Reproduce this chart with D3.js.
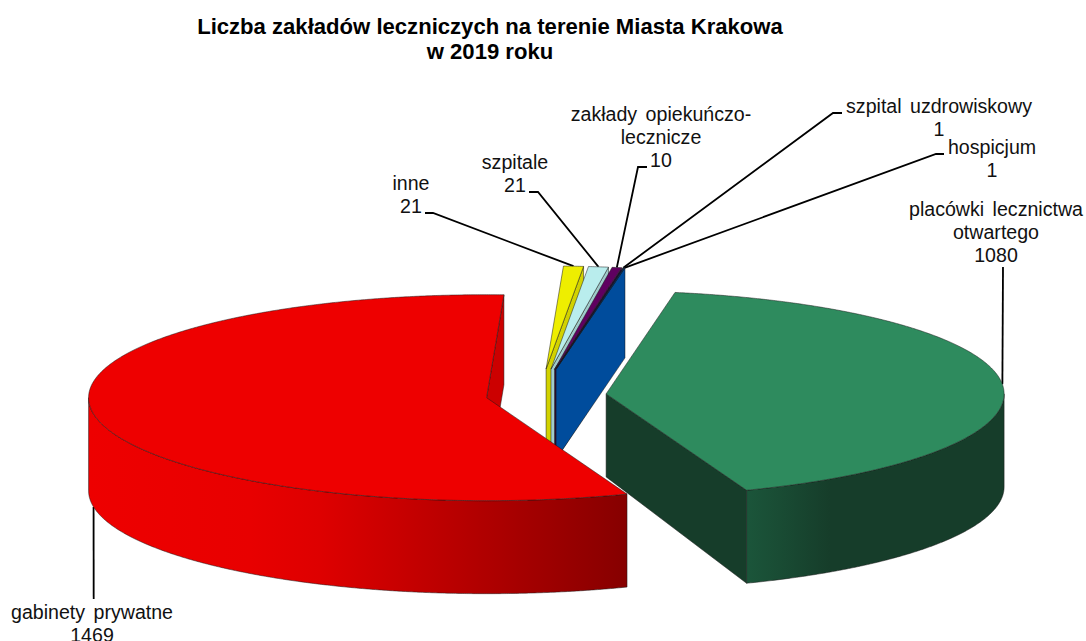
<!DOCTYPE html>
<html><head><meta charset="utf-8">
<style>html,body{margin:0;padding:0;background:#fff;overflow:hidden}
text{font-family:"Liberation Sans",Arial,sans-serif;fill:#111}
.lab{font-size:19.6px;word-spacing:3px;text-anchor:middle}
.ttl{font-size:22.1px;font-weight:bold;text-anchor:middle;fill:#000}
</style>
<script src="https://cdn.jsdelivr.net/npm/d3@7/dist/d3.min.js"></script>
</head><body>
<svg id="c" width="1086" height="641"></svg>
<script>
const categories=["inne","szpitale","zakłady opiekuńczo-\nlecznicze","szpital uzdrowiskowy","hospicjum","placówki lecznictwa\notwartego","gabinety prywatne"];
const values=[21,21,10,1,1,1080,1469];
const titleLines=["Liczba zakładów leczniczych na terenie Miasta Krakowa","w 2019 roku"];
const topColors=["#eeee00","#b9eded","#5f0060","#14143c","#004c9c","#2e8b5e","#ee0000"];
const wallColors=["#d2d200","#a0cccc","#3c003c","#000022","#004c9c","#163d2a","#cc0000"];
const explosion=[97,97,97,97,97,67,53.5];
const lift=[1.5,1.5,1.5,1.5,1.5,0,0];
const drawOrder=[5,0,1,2,3,4,6];
// label layout: centre x, first baseline, leader elbow points
const labelAt=[[411,190],[515,169],[661,121],[939,113],[992,154],[996,216],[92,619]];
const elbows=[[[425,213],[433,213]],[[529,192],[538,192]],[[647,167],[638,167]],[[842,113],[833,113]],[[944,154],[936,154]],[[1003,267]],[[93.7,599]]];

const CX=539.4,CY=395.5,RX=398,RY=103,D=93;
const sx=d3.scaleLinear().domain([-1,1]).range([-RX,RX]);
const sy=d3.scaleLinear().domain([-1,1]).range([-RY,RY]);
const start=2.5*Math.PI/180;
const arcs=d3.pie().sort(null).startAngle(start).endAngle(start+2*Math.PI)(values);
const svg=d3.select("#c");
const defs=svg.append("defs");
function grad(id,x1,x2,stops){const g=defs.append("linearGradient").attr("id",id).attr("gradientUnits","userSpaceOnUse").attr("x1",x1).attr("x2",x2).attr("y1",0).attr("y2",0);
 stops.forEach(s=>g.append("stop").attr("offset",s[0]).attr("stop-color",s[1]));}
grad("gRed",88,628,[[0,"#ee0000"],[.3,"#e80000"],[.43,"#de0000"],[.7,"#b50000"],[1,"#860000"]]);
grad("gGreen",748,1004,[[0,"#1b553a"],[.32,"#163d2a"],[1,"#163d2a"]]);
const sideFill={5:"url(#gGreen)",6:"url(#gRed)"};
const line=d3.line();
function centre(i){const m=(arcs[i].startAngle+arcs[i].endAngle)/2,e=explosion[i];
 return [CX+e*Math.sin(m),CY-lift[i]-e*Math.cos(m)*RY/RX];}
function pt(i,t){const c=centre(i);return [c[0]+sx(Math.sin(t)),c[1]-sy(Math.cos(t))];}
function depth(t){const c=Math.cos(t);return D-(c>0?3*c:0);}
function arcPts(i,a,b){const n=Math.max(2,Math.ceil((b-a)*180));return d3.range(n+1).map(k=>pt(i,a+(b-a)*k/n));}
function poly(pts,fill){return svg.append("path").attr("d",line(pts)+"Z").attr("fill",fill)
 .attr("stroke","#1a1a1a").attr("stroke-width",.6).attr("stroke-linejoin","round").attr("stroke-opacity",.85);}
function leader(pts){svg.append("path").attr("d",line(pts)).attr("fill","none").attr("stroke","#000").attr("stroke-width",1.8);}
arcs.forEach((a,i)=>{
 const m=(a.startAngle+a.endAngle)/2;let end=pt(i,m);
 if(i===6) end=[end[0],end[1]+depth(m)];
 leader([...elbows[i],end]);
});
drawOrder.forEach(i=>{
 const a=arcs[i],c=centre(i),e=a.endAngle;
 const o=pt(i,e);
 const apexDepth=i===5?83:depth(e);
 poly([o,c,[c[0],c[1]+apexDepth],[o[0],o[1]+depth(e)]],wallColors[i]);
 const s0=Math.max(a.startAngle,Math.PI/2),s1=Math.min(a.endAngle,1.5*Math.PI);
 if(s1>s0){const up=arcPts(i,s0,s1);const dn=up.map(p=>[p[0],p[1]+D]).reverse();
  poly(up.concat(dn),sideFill[i]||wallColors[i]);}
 poly([c].concat(arcPts(i,a.startAngle,a.endAngle)),topColors[i]);
});
categories.forEach((t,i)=>{
 const lines=t.split("\n").concat(String(values[i]));
 const g=svg.append("text").attr("class","lab");
 lines.forEach((l,k)=>g.append("tspan").attr("x",labelAt[i][0]).attr("y",labelAt[i][1]+k*23).text(l));
});
titleLines.forEach((l,k)=>svg.append("text").attr("class","ttl").attr("x",490).attr("y",34+k*25).text(l));
</script></body></html>
